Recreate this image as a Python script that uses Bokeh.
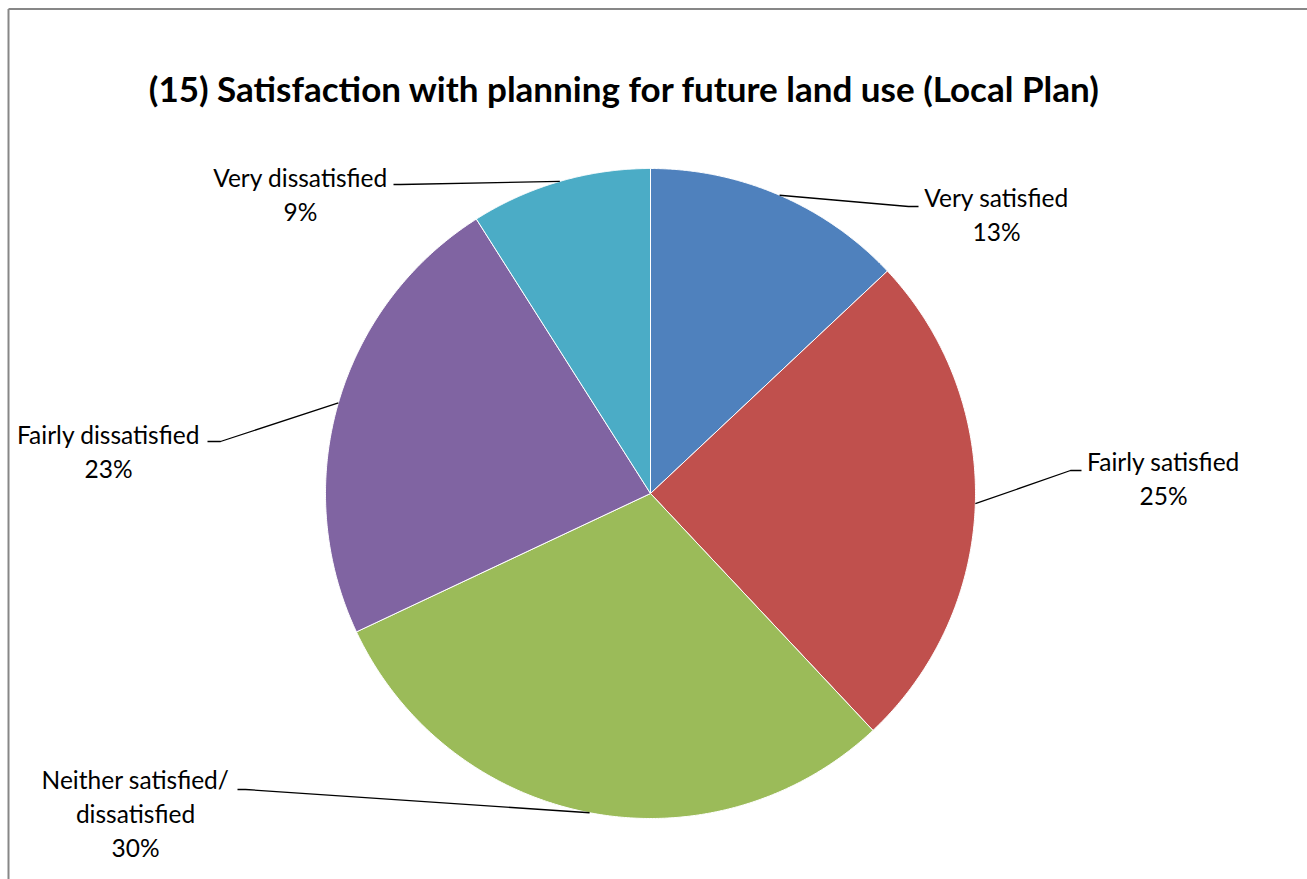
import numpy as np
from bokeh.plotting import figure
from bokeh.models import Range1d, ColumnDataSource
from bokeh.core.properties import value
from bokeh.embed import file_html
from bokeh.resources import INLINE

# ---- data ----
title = "(15) Satisfaction with planning for future land use (Local Plan)"
categories = ["Very satisfied", "Fairly satisfied", "Neither satisfied/\ndissatisfied",
              "Fairly dissatisfied", "Very dissatisfied"]
values = [13, 25, 30, 23, 9]
colors = ["#4F81BD", "#C0504D", "#9BBB59", "#8064A2", "#4BACC6"]

# ---- layout (pixels) ----
W, H = 1307, 879
cx, cy, R = 650, 493, 325
label_pos = [(996, 197), (1163, 461), (135, 779), (108, 434), (300, 177)]
elbows = [(908, 206), (1070, 470), (245, 789), (220, 441), (400, 184)]
ends = [(918, 206), (1081, 470), (237, 789), (207, 441), (393, 184)]
line_gap = 34
FONT = "Lato"

p = figure(width=W, height=H, x_range=Range1d(0, W), y_range=Range1d(H, 0),
           output_backend="svg", toolbar_location=None, min_border=0,
           outline_line_color=None, background_fill_color="white",
           border_fill_color="white")
p.axis.visible = False
p.grid.visible = False

total = float(sum(values))
fr = np.cumsum([0] + values) / total
xs, ys, mids = [], [], []
for i in range(len(values)):
    a0, a1 = fr[i] * 2 * np.pi, fr[i + 1] * 2 * np.pi
    t = np.linspace(a0, a1, 200)
    xs.append(list(np.r_[cx, cx + R * np.sin(t), cx]))
    ys.append(list(np.r_[cy, cy - R * np.cos(t), cy]))
    am = (a0 + a1) / 2
    mids.append((cx + R * np.sin(am), cy - R * np.cos(am)))

p.patches(xs="xs", ys="ys", fill_color="color", line_color="white", line_width=1,
          source=ColumnDataSource(dict(xs=xs, ys=ys, color=colors)))

# leader lines
lx = [[m[0], e[0], f[0]] for m, e, f in zip(mids, elbows, ends)]
ly = [[m[1], e[1], f[1]] for m, e, f in zip(mids, elbows, ends)]
p.multi_line(xs=lx, ys=ly, line_color="black", line_width=1.3)

# labels
tx, ty, tt = [], [], []
for cat, v, (x0, y0) in zip(categories, values, label_pos):
    lines = cat.split("\n") + [f"{v}%"]
    for j, s in enumerate(lines):
        tx.append(x0); ty.append(y0 + j * line_gap); tt.append(s)
p.text(x=tx, y=ty, text=tt, text_align="center", text_baseline="middle",
       text_font=value(FONT), text_font_size="24.5px", text_color="black")

# title
p.text(x=[624], y=[87], text=[title], text_align="center", text_baseline="middle",
       text_font=value(FONT), text_font_style="bold", text_font_size="35px",
       text_color="black")

# chart border (top and left visible)
p.line(x=[8, W + 5], y=[8.5, 8.5], line_color="#878787", line_width=2)
p.line(x=[8, 8], y=[8.5, H + 5], line_color="#878787", line_width=2)

open("out.html", "w").write(file_html(p, INLINE))
